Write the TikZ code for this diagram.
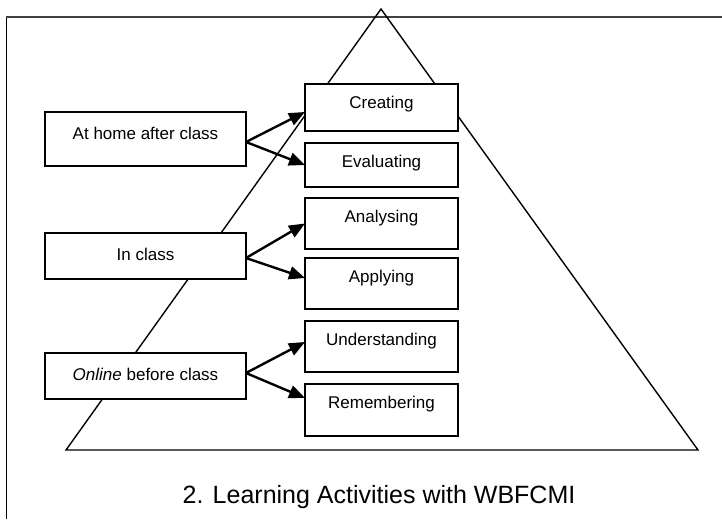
\documentclass[tikz,border=0pt]{standalone}
\usepackage{fontspec}
\setmainfont{Liberation Sans}
\usetikzlibrary{arrows.meta}
\begin{document}
\begin{tikzpicture}[x=1pt,y=-1pt,
  rbox/.style={draw, fill=white, line width=1.6pt, inner sep=0pt, outer sep=0pt,
    minimum width=153pt, text height=24.5pt, anchor=north west,
    font=\fontsize{17}{20}\selectfont},
  lbox/.style={draw, fill=white, line width=1.6pt, inner sep=0pt, outer sep=0pt,
    minimum width=201pt, text height=27pt, anchor=north west,
    font=\fontsize{17}{20}\selectfont},
  arr/.style={line width=2.4pt, -{Triangle[length=16pt,width=13pt]}},
  frame/.style={line width=1pt},
  tri/.style={line width=1.4pt, line join=miter}]
\useasboundingbox (0,0) rectangle (722,519);
% frame
\coordinate (fbl) at (6,519);
\coordinate (ftl) at (6,17);
\coordinate (ftr) at (722,17);
\draw[frame, black] (fbl) -- (ftl);
\draw[frame, line width=1.6pt, black!75] (ftl) -- (ftr);
% triangle
\coordinate (apex) at (381,9);
\coordinate (br) at (698,450);
\coordinate (bl) at (66,450);
\draw[tri] (apex) -- (br) -- (bl) -- cycle;
% right boxes
\node[rbox, text depth=22.5pt] (cre) at (305,84) {Creating};
\node[rbox, text depth=19.5pt] (eva) at (305,143) {Evaluating};
\node[rbox, text depth=26.5pt] (ana) at (305,198) {Analysing};
\node[rbox, text depth=26.5pt] (app) at (305,258) {Applying};
\node[rbox, text depth=26.5pt] (und) at (305,321) {Understanding};
\node[rbox, text depth=27.5pt] (rem) at (305,384) {Remembering};
% left boxes
\node[lbox, text depth=27pt] (home) at (45,112) {At home after class};
\node[lbox, text depth=19pt] (incl) at (45,233) {In class};
\node[lbox, text depth=19pt] (onl) at (45,353) {\textit{Online} before class};
% arrows
\draw[arr] ([yshift=-3pt]home.east) -- ([yshift=-4.5pt]cre.west);
\draw[arr] ([yshift=-3pt]home.east) -- (eva.west);
\draw[arr] ([yshift=-2pt]incl.east) -- (ana.west);
\draw[arr] ([yshift=-2pt]incl.east) -- ([yshift=5.5pt]app.west);
\draw[arr] ([yshift=3pt]onl.east) -- ([yshift=4.5pt]und.west);
\draw[arr] ([yshift=3pt]onl.east) -- ([yshift=12pt]rem.west);
% caption
\node[font=\fontsize{25}{30}\selectfont] (cap) at (379,497) {2. Learning Activities with WBFCMI};
\end{tikzpicture}
\end{document}
